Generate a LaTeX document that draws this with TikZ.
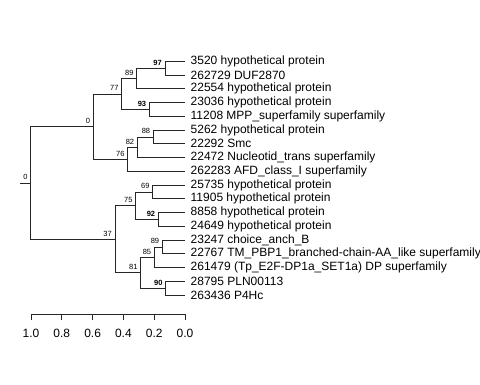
\documentclass[tikz,border=0pt]{standalone}
\usepackage{fontspec}
\setmainfont{Liberation Sans}
\begin{document}
\begin{tikzpicture}[x=1pt,y=-1pt,
  br/.style={line width=0.8pt,draw=black!85},
  leaf/.style={anchor=west,inner sep=0pt,font=\fontsize{12}{14}\selectfont,xshift=5.5pt},
  bs/.style={anchor=base east,inner sep=0pt,font=\fontsize{7.5}{8}\selectfont},
  bsb/.style={bs,font=\fontsize{7.5}{8}\selectfont\bfseries},
  axl/.style={anchor=center,inner sep=0pt,font=\fontsize{12}{14}\selectfont}]
\useasboundingbox (0,0) rectangle (480,384);
% leaf ends
\coordinate (l0) at (185,61.3);
\coordinate (l1) at (185,75.05);
\coordinate (l2) at (185,88.8);
\coordinate (l3) at (185,102.55);
\coordinate (l4) at (185,116.3);
\coordinate (l5) at (185,130.05);
\coordinate (l6) at (185,143.8);
\coordinate (l7) at (185,157.55);
\coordinate (l8) at (185,171.3);
\coordinate (l9) at (185,185.05);
\coordinate (l10) at (185,198.8);
\coordinate (l11) at (185,212.55);
\coordinate (l12) at (185,226.3);
\coordinate (l13) at (185,240.05);
\coordinate (l14) at (185,253.8);
\coordinate (l15) at (185,267.55);
\coordinate (l16) at (185,281.3);
\coordinate (l17) at (185,295.05);
% internal nodes
\coordinate (n97) at (165,68.18);
\coordinate (n89a) at (136.7,78.49);
\coordinate (n93) at (149.3,109.43);
\coordinate (n77) at (121.7,93.96);
\coordinate (n88) at (153.3,136.93);
\coordinate (n82) at (137.3,147.24);
\coordinate (n76) at (127.7,159.27);
\coordinate (n0u) at (93.3,126.61);
\coordinate (root) at (30.7,182.9);
\coordinate (stem) at (20.3,182.9);
\coordinate (n69) at (152.7,191.93);
\coordinate (n92) at (158.3,219.43);
\coordinate (n75) at (135.7,205.68);
\coordinate (n89b) at (162.3,246.93);
\coordinate (n85) at (154.3,257.24);
\coordinate (n90) at (165.7,288.18);
\coordinate (n81) at (140.7,272.71);
\coordinate (n37) at (115,239.19);
% branches
\draw[br] (stem) -- (root);
\draw[br] (root) |- (n0u);
\draw[br] (root) |- (n37);
\draw[br] (n0u) |- (n77);
\draw[br] (n0u) |- (n76);
\draw[br] (n77) |- (n89a);
\draw[br] (n77) |- (n93);
\draw[br] (n89a) |- (n97);
\draw[br] (n89a) |- (l2);
\draw[br] (n97) |- (l0);
\draw[br] (n97) |- (l1);
\draw[br] (n93) |- (l3);
\draw[br] (n93) |- (l4);
\draw[br] (n76) |- (n82);
\draw[br] (n76) |- (l8);
\draw[br] (n82) |- (n88);
\draw[br] (n82) |- (l7);
\draw[br] (n88) |- (l5);
\draw[br] (n88) |- (l6);
\draw[br] (n37) |- (n75);
\draw[br] (n37) |- (n81);
\draw[br] (n75) |- (n69);
\draw[br] (n75) |- (n92);
\draw[br] (n69) |- (l9);
\draw[br] (n69) |- (l10);
\draw[br] (n92) |- (l11);
\draw[br] (n92) |- (l12);
\draw[br] (n81) |- (n85);
\draw[br] (n81) |- (n90);
\draw[br] (n85) |- (n89b);
\draw[br] (n85) |- (l15);
\draw[br] (n89b) |- (l13);
\draw[br] (n89b) |- (l14);
\draw[br] (n90) |- (l16);
\draw[br] (n90) |- (l17);
% leaf labels
\node[leaf] (t0) at (l0) {3520 hypothetical protein};
\node[leaf] (t1) at (l1) {262729 DUF2870};
\node[leaf] (t2) at (l2) {22554 hypothetical protein};
\node[leaf] (t3) at (l3) {23036 hypothetical protein};
\node[leaf] (t4) at (l4) {11208 MPP\_superfamily superfamily};
\node[leaf] (t5) at (l5) {5262 hypothetical protein};
\node[leaf] (t6) at (l6) {22292 Smc};
\node[leaf] (t7) at (l7) {22472 Nucleotid\_trans superfamily};
\node[leaf] (t8) at (l8) {262283 AFD\_class\_I superfamily};
\node[leaf] (t9) at (l9) {25735 hypothetical protein};
\node[leaf] (t10) at (l10) {11905 hypothetical protein};
\node[leaf] (t11) at (l11) {8858 hypothetical protein};
\node[leaf] (t12) at (l12) {24649 hypothetical protein};
\node[leaf] (t13) at (l13) {23247 choice\_anch\_B};
\node[leaf] (t14) at (l14) {22767 TM\_PBP1\_branched-chain-AA\_like superfamily};
\node[leaf] (t15) at (l15) {261479 (Tp\_E2F-DP1a\_SET1a) DP superfamily};
\node[leaf] (t16) at (l16) {28795 PLN00113};
\node[leaf] (t17) at (l17) {263436 P4Hc};
% bootstrap labels
\node[bsb] (b97) at ([shift={(-3,-3)}]n97) {97};
\node[bs] (b89a) at ([shift={(-3,-3)}]n89a) {89};
\node[bsb] (b93) at ([shift={(-3,-3)}]n93) {93};
\node[bs] (b77) at ([shift={(-3,-3)}]n77) {77};
\node[bs] (b88) at ([shift={(-3,-3)}]n88) {88};
\node[bs] (b82) at ([shift={(-3,-3)}]n82) {82};
\node[bs] (b76) at ([shift={(-3,-3)}]n76) {76};
\node[bs] (b0u) at ([shift={(-3,-3)}]n0u) {0};
\node[bs] (broot) at ([shift={(-3,-3)}]root) {0};
\node[bs] (b69) at ([shift={(-3,-3)}]n69) {69};
\node[bsb] (b92) at ([shift={(-3,-3)}]n92) {92};
\node[bs] (b75) at ([shift={(-3,-3)}]n75) {75};
\node[bs] (b89b) at ([shift={(-3,-3)}]n89b) {89};
\node[bs] (b85) at ([shift={(-3,-3)}]n85) {85};
\node[bsb] (b90) at ([shift={(-3,-3)}]n90) {90};
\node[bs] (b81) at ([shift={(-3,-3)}]n81) {81};
\node[bs] (b37) at ([shift={(-3,-3)}]n37) {37};
% axis
\coordinate (a0) at (31,314);
\coordinate (a5) at (185,314);
\draw[br] (a0) -- (a5);
\foreach \v/\xx in {1.0/31,0.8/61.8,0.6/92.6,0.4/123.4,0.2/154.2,0.0/185}{
  \draw[br] (\xx,314) -- (\xx,320);
  \node[axl] at (\xx,333) {\v};
}
\end{tikzpicture}
\end{document}
